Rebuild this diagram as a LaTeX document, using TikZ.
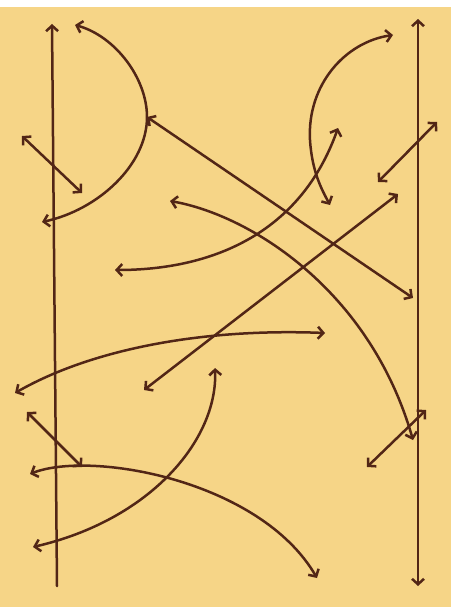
\documentclass[tikz,border=0pt]{standalone}
\usepackage{tikz}
\usetikzlibrary{arrows.meta}

\definecolor{paper}{RGB}{246,213,135}
\definecolor{ink}{RGB}{82,38,22}

\begin{document}
\begin{tikzpicture}[
        x=1pt, y=-1pt,
        arrow/.style={
            draw=ink, line width=2.5pt, line cap=round, <->,
            >={Straight Barb[length=5.5pt, width=12pt, line width=2.5pt]}
        },
        oneArrow/.style={
            arrow, ->
        }
    ]
        % Sheet
        \fill[paper] (0,0) rectangle (451,607);
        \fill[white] (0,0) rectangle (451,7);
        \useasboundingbox (0,0) rectangle (451,607);

        % End points
        \coordinate (leftBottom) at (57,586);
        \coordinate (leftTop) at (52,24);
        \coordinate (rightTop) at (418,19);
        \coordinate (rightBottom) at (418,586);

        \coordinate (arcTop) at (75,25);
        \coordinate (arcMid) at (147,117);
        \coordinate (arcEnd) at (42,222);
        \coordinate (crossA) at (413,298);

        \coordinate (smallA1) at (22,136);
        \coordinate (smallA2) at (82,193);
        \coordinate (smallB1) at (27,412);
        \coordinate (smallB2) at (82,467);
        \coordinate (smallC1) at (437,122);
        \coordinate (smallC2) at (378,182);
        \coordinate (smallD1) at (426,410);
        \coordinate (smallD2) at (367,467);

        \coordinate (fallStart) at (170,201);
        \coordinate (fallEnd) at (413,440);
        \coordinate (riseStart) at (115,270);
        \coordinate (riseEnd) at (338,128);
        \coordinate (hookTop) at (393,35);
        \coordinate (hookMid) at (310,140);
        \coordinate (hookEnd) at (330,205);
        \coordinate (diagTop) at (398,194);
        \coordinate (diagEnd) at (144,390);
        \coordinate (sweepStart) at (15,393);
        \coordinate (sweepEnd) at (325,333);
        \coordinate (swingTop) at (215,368);
        \coordinate (swingEnd) at (33,547);
        \coordinate (dropStart) at (30,474);
        \coordinate (dropEnd) at (317,578);

        % Arrows
        \draw [oneArrow] (leftBottom) -- (leftTop);
        \draw [arrow] (rightTop) -- (rightBottom);
        \draw [arrow] (arcTop) .. controls (115,36) and (147,78) .. (arcMid)
            .. controls (147,165) and (98,210) .. (arcEnd);
        \draw [arrow] (arcMid) -- (crossA);
        \draw [arrow] (smallA1) -- (smallA2);
        \draw [arrow] (smallB1) -- (smallB2);
        \draw [arrow] (smallC1) -- (smallC2);
        \draw [arrow] (smallD1) -- (smallD2);
        \draw [arrow] (fallStart) .. controls (250,215) and (370,290) .. (fallEnd);
        \draw [arrow] (riseStart) .. controls (210,270) and (300,235) .. (riseEnd);
        \draw [arrow] (hookTop) .. controls (345,42) and (307,85) .. (hookMid)
            .. controls (312,172) and (322,190) .. (hookEnd);
        \draw [arrow] (diagTop) -- (diagEnd);
        \draw [arrow] (sweepStart) .. controls (90,350) and (200,328) .. (sweepEnd);
        \draw [arrow] (swingTop) .. controls (218,440) and (150,520) .. (swingEnd);
        \draw [arrow] (dropStart) .. controls (90,450) and (260,480) .. (dropEnd);
    \end{tikzpicture}
\end{document}
